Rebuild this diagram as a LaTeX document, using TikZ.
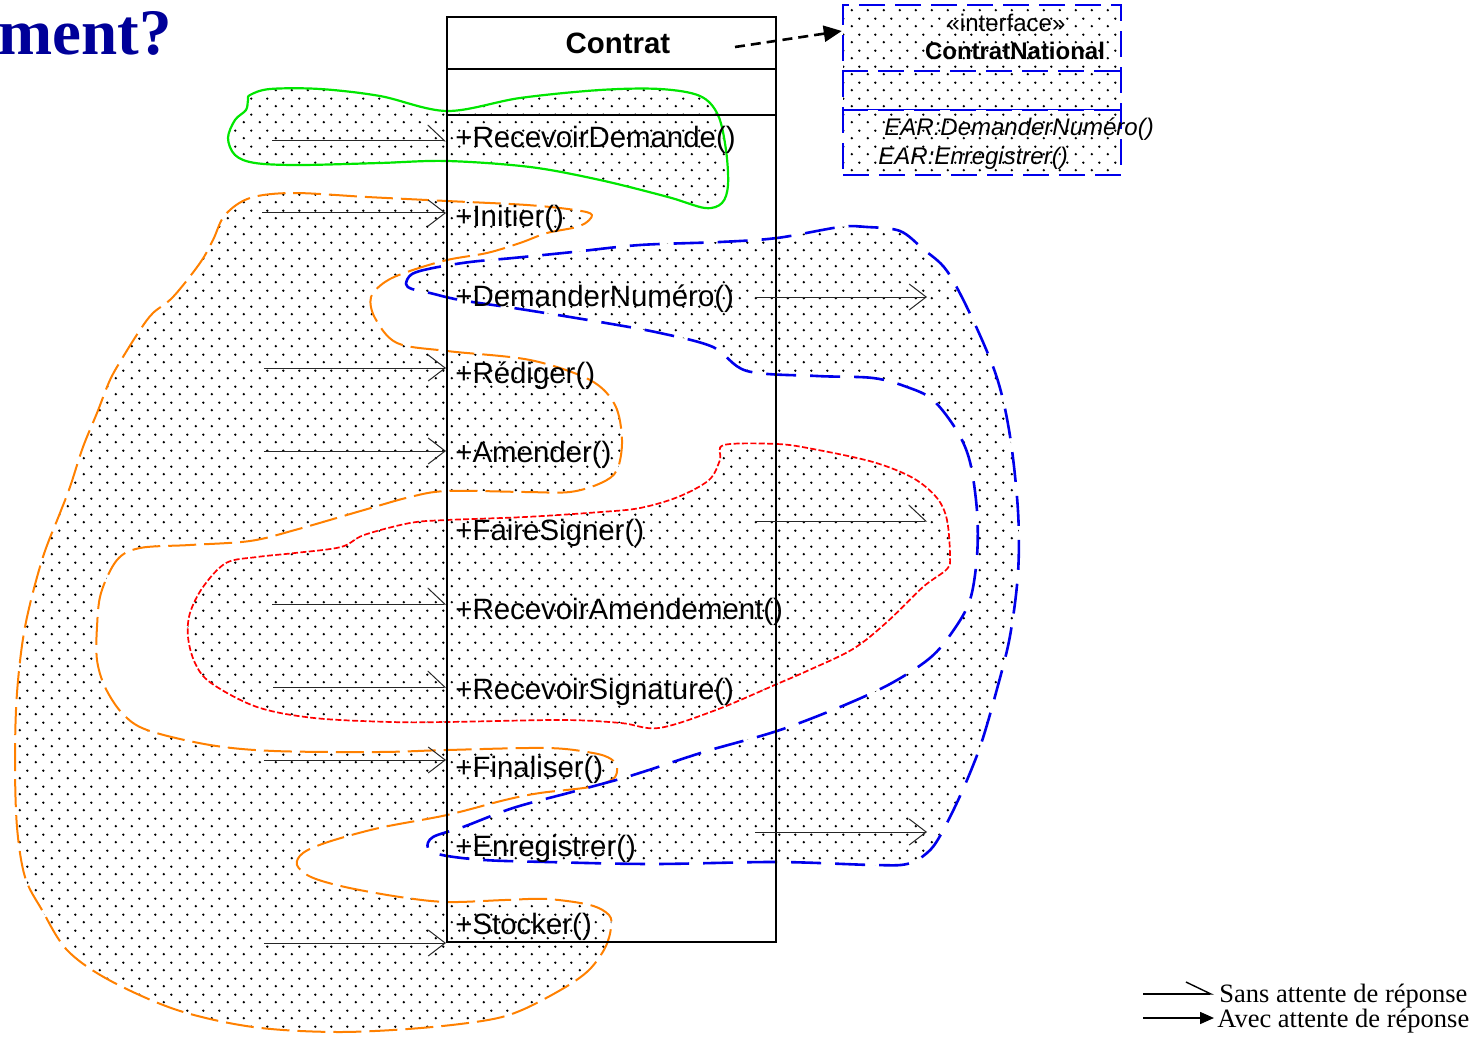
\documentclass[tikz,border=0pt]{standalone}
\usepackage{fontspec}
\setmainfont{Liberation Sans}
\newfontfamily\legendfont{Liberation Serif}
\usetikzlibrary{arrows.meta,patterns}

% staggered dot grid used to shade the zones
\pgfdeclarepatternformonly{dotgrid}{\pgfqpoint{0pt}{0pt}}{\pgfqpoint{8pt}{8pt}}{\pgfqpoint{8pt}{8pt}}{%
  \pgfpathcircle{\pgfqpoint{2pt}{2pt}}{0.68pt}%
  \pgfpathcircle{\pgfqpoint{6pt}{6pt}}{0.68pt}%
  \pgfusepath{fill}}

\definecolor{titleblue}{RGB}{0,0,153}
\definecolor{zoneorange}{RGB}{255,128,0}
\definecolor{zoneblue}{RGB}{0,0,235}
\definecolor{zonegreen}{RGB}{0,230,0}
\definecolor{zonered}{RGB}{255,0,0}

\begin{document}
\begin{tikzpicture}[x=0.5pt,y=-0.5pt,
  zone/.style={pattern=dotgrid, pattern color=black},
  orangeline/.style={draw=zoneorange, line width=1pt, dash pattern=on 14pt off 4pt, line join=round},
  blueline/.style={draw=zoneblue, line width=1.3pt, dash pattern=on 15pt off 7pt, line join=round},
  redline/.style={draw=zonered, line width=0.85pt, dash pattern=on 3pt off 1.2pt, line join=round},
  greenline/.style={draw=zonegreen, line width=1.1pt, line join=round},
  classbox/.style={draw=black, line width=1pt, minimum width=164.5pt, minimum height=462.5pt, inner sep=0pt},
  ifacebox/.style={draw=zoneblue, line width=1.2pt, dash pattern=on 13pt off 5pt, minimum width=139pt, minimum height=85pt, inner sep=0pt, zone},
  method/.style={anchor=base west, inner sep=0pt, font=\fontsize{14.7pt}{17pt}\selectfont},
  ifacetext/.style={inner sep=0pt, font=\fontsize{12pt}{14pt}\selectfont},
  legendtext/.style={anchor=base west, inner sep=0pt, font=\legendfont\fontsize{13.25pt}{15pt}\selectfont},
  msg/.style={line width=0.5pt, draw=black!85, -{Straight Barb[length=8.5pt,width=13pt]}},
  halfmsg/.style={line width=0.5pt, draw=black!85, -{Straight Barb[left,length=8.5pt,width=16pt]}},
  waitmsg/.style={line width=0.8pt, -{Triangle[length=7pt,width=6pt]}},
  realizes/.style={line width=1.3pt, dash pattern=on 5pt off 3pt, -{Triangle[length=9pt,width=8pt]}}
]
\useasboundingbox (0,0) rectangle (1479,1038);
\clip (0,0) rectangle (1479,1038);

% ---------- title fragment ----------
\node[anchor=base east, inner sep=0pt, text=titleblue,
      font=\legendfont\bfseries\fontsize{32.5pt}{36pt}\selectfont] (title) at (172,55) {ment?};

% ---------- shaded zones ----------
\def\greenzone{(250,95) (270,89) (320,89) (380,96) (447,111) (520,98) (600,90) (660,89) (700,96) (718,115) (726,150) (728,185) (722,203) (705,208) (668,197) (600,180) (530,167) (447,161) (380,163) (300,165) (255,163) (235,155) (228,138) (235,120) (246,110) (248,100)}

\def\orangezone{(250,198) (293,193) (367,197) (447,201) (527,205) (575,210) (592,215) (580,226) (547,233) (520,243) (487,253) (447,260) (407,272) (385,282) (371,297) (375,318) (397,343) (447,351) (530,360) (590,380) (615,405) (622,440) (617,470) (601,483) (570,492) (525,492) (447,491) (410,497) (364,510) (295,530) (250,541) (190,545) (140,548) (117,560) (101,593) (97,627) (97,660) (105,687) (122,713) (147,730) (210,745) (274,751) (379,752) (447,750) (547,748) (593,753) (611,759) (617,768) (613,779) (590,787) (540,793) (505,800) (447,815) (379,828) (328,842) (303,853) (297,865) (311,877) (345,887) (400,897) (447,902) (505,900) (547,899) (590,905) (609,915) (611,928) (605,948) (589,970) (564,988) (522,1010) (488,1020) (421,1028) (337,1032) (253,1027) (177,1010) (109,980) (67,950) (42,910) (25,877) (17,827) (15,760) (17,693) (25,627) (42,560) (60,513) (70,487) (83,447) (97,413) (110,380) (123,357) (140,330) (153,313) (173,297) (200,263) (213,240) (225,215)}

\def\bluezone{(406,284) (412,274) (433,268) (470,262) (513,258) (573,252) (640,245) (720,242) (777,238) (840,227) (867,227) (900,231) (923,249) (947,271) (973,320) (997,378) (1010,436) (1018,511) (1018,573) (1010,636) (997,689) (980,747) (960,796) (940,836) (927,853) (907,864) (873,865) (777,862) (653,864) (547,862) (484,860) (442,855) (428,848) (433,837) (463,827) (513,808) (572,792) (627,777) (652,769) (707,751) (777,731) (840,707) (890,684) (930,658) (953,631) (970,600) (977,556) (977,511) (970,462) (957,431) (933,400) (907,387) (873,378) (817,376) (747,371) (713,347) (660,333) (600,322) (520,309) (460,300) (430,293) (412,289)}

\def\redzone{(724,445) (777,444) (813,449) (873,462) (913,478) (937,498) (947,520) (950,556) (947,569) (923,587) (887,622) (853,649) (807,671) (777,684) (716,710) (659,728) (621,723) (563,720) (447,722) (391,722) (314,718) (257,707) (211,683) (195,663) (188,637) (190,613) (203,587) (226,563) (257,557) (295,553) (341,547) (364,535) (410,523) (447,520) (525,517) (601,512) (640,508) (678,497) (709,480) (720,460)}

\fill[zone] plot[smooth cycle, tension=0.55] coordinates \orangezone;
\fill[zone] plot[smooth cycle, tension=0.55] coordinates \bluezone;
\fill[zone] plot[smooth cycle, tension=0.55] coordinates \redzone;
\fill[zone] plot[smooth cycle, tension=0.55] coordinates \greenzone;

\draw[orangeline] plot[smooth cycle, tension=0.55] coordinates \orangezone;
\draw[redline] plot[smooth cycle, tension=0.55] coordinates \redzone;
\draw[blueline] plot[smooth cycle, tension=0.55] coordinates \bluezone;
\draw[greenline] plot[smooth cycle, tension=0.55] coordinates \greenzone;

% ---------- class Contrat ----------
\node[classbox] (contrat) at (611.5,479.5) {};
\draw[line width=1pt] (contrat.west |- 0,69) -- (contrat.east |- 0,69);
\draw[line width=1pt] (contrat.west |- 0,115) -- (contrat.east |- 0,115);
\node[anchor=base, inner sep=0pt, font=\bfseries\fontsize{14.7pt}{17pt}\selectfont] (cname) at (618,54) {Contrat};

\node[method] (m1)  at (455,148) {+RecevoirDemande()};
\node[method] (m2)  at (455,227) {+Initier()};
\node[method] (m3)  at (455,306) {+DemanderNuméro()};
\node[method] (m4)  at (455,383) {+Rédiger()};
\node[method] (m5)  at (455,462) {+Amender()};
\node[method] (m6)  at (455,540) {+FaireSigner()};
\node[method] (m7)  at (455,619) {+RecevoirAmendement()};
\node[method] (m8)  at (455,699) {+RecevoirSignature()};
\node[method] (m9)  at (455,777) {+Finaliser()};
\node[method] (m10) at (455,856) {+Enregistrer()};
\node[method] (m11) at (455,934) {+Stocker()};

% ---------- interface ContratNational ----------
\node[ifacebox] (iface) at (982,90) {};
\draw[zoneblue, line width=1.2pt, dash pattern=on 13pt off 5pt] (iface.west |- 0,71) -- (iface.east |- 0,71);
\draw[zoneblue, line width=0.4pt] (iface.west |- 0,109) -- (iface.east |- 0,109);
\draw[zoneblue, line width=1.2pt, dash pattern=on 13pt off 5pt] (iface.west |- 0,110) -- (iface.east |- 0,110);
\node[ifacetext, anchor=base] (stereo) at (1006,32) {«interface»};
\node[ifacetext, anchor=base, font=\bfseries\fontsize{12pt}{14pt}\selectfont] (iname) at (1015,60) {ContratNational};
\node[ifacetext, anchor=base west, font=\itshape\fontsize{12pt}{14pt}\selectfont] (op1) at (884,136) {EAR:DemanderNuméro()};
\node[ifacetext, anchor=base west, font=\itshape\fontsize{12pt}{14pt}\selectfont] (op2) at (878,165) {EAR:Enregistrer()};

\coordinate (realstart) at (735,47);
\draw[realizes] (realstart) -- (iface.west |- 0,31);

% ---------- incoming messages ----------
\coordinate (a1)  at (272,141);
\coordinate (a2)  at (262,213);
\coordinate (a4)  at (264,368);
\coordinate (a5)  at (264,451);
\coordinate (a7)  at (272,604);
\coordinate (a8)  at (273,687);
\coordinate (a9)  at (264,760);
\coordinate (a11) at (264,943);
\draw[halfmsg] (a1)  -- (a1 -| contrat.west);
\draw[msg]     (a2)  -- (a2 -| contrat.west);
\draw[msg]     (a4)  -- (a4 -| contrat.west);
\draw[msg]     (a5)  -- (a5 -| contrat.west);
\draw[halfmsg] (a7)  -- (a7 -| contrat.west);
\draw[halfmsg] (a8)  -- (a8 -| contrat.west);
\draw[msg]     (a9)  -- (a9 -| contrat.west);
\draw[msg]     (a11) -- (a11 -| contrat.west);

% ---------- outgoing messages ----------
\coordinate (b3s)  at (755,297);  \coordinate (b3e)  at (927,297);
\coordinate (b6s)  at (755,521);  \coordinate (b6e)  at (927,521);
\coordinate (b10s) at (755,832);  \coordinate (b10e) at (927,832);
\draw[msg]     (b3s)  -- (b3e);
\draw[halfmsg] (b6s)  -- (b6e);
\draw[msg]     (b10s) -- (b10e);

% ---------- legend ----------
\coordinate (l1s) at (1143,994);  \coordinate (l1e) at (1214,994);
\coordinate (l2s) at (1143,1018); \coordinate (l2e) at (1214,1018);
\draw[line width=0.7pt, -{Straight Barb[left,length=12.5pt,width=12pt]}] (l1s) -- (l1e);
\draw[waitmsg] (l2s) -- (l2e);
\node[legendtext] (leg1) at (1219,1002) {Sans attente de réponse};
\node[legendtext] (leg2) at (1217,1027) {Avec attente de réponse};
\end{tikzpicture}
\end{document}
